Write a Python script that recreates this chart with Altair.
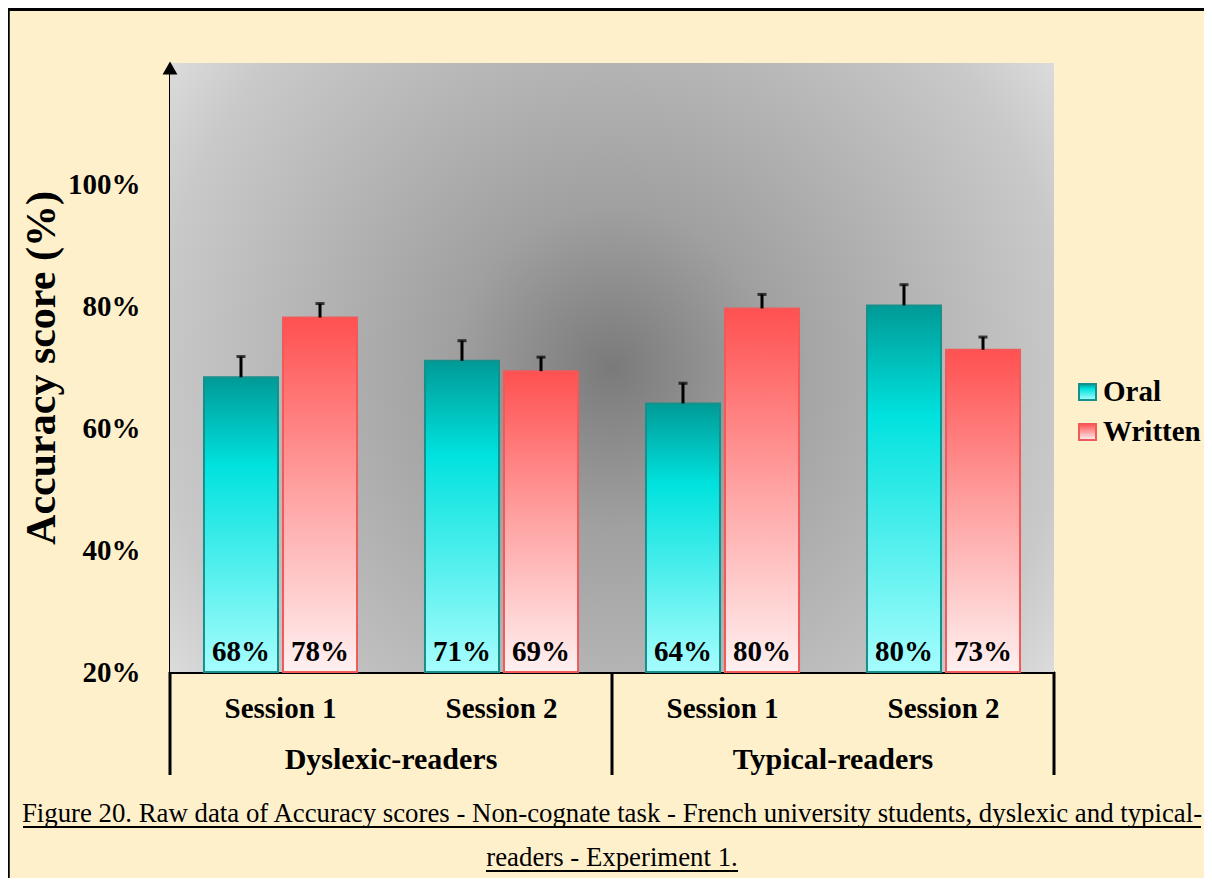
import altair as alt
import pandas as pd

# ---- data ----
reader_groups = ["Dyslexic-readers", "Dyslexic-readers", "Typical-readers", "Typical-readers"]
sessions = ["Session 1", "Session 2", "Session 1", "Session 2"]
oral_scores = [68.4, 71.1, 64.1, 80.2]
written_scores = [78.2, 69.4, 79.7, 72.9]
oral_errors = [3.4, 3.3, 3.3, 3.4]
written_errors = [2.3, 2.3, 2.3, 2.1]
modalities = ["Oral", "Written"]
y_ticks = [20, 40, 60, 80, 100]
group_names = ["Dyslexic-readers", "Typical-readers"]
y_title = "Accuracy score (%)"
caption_1 = "Figure 20. Raw data of Accuracy scores - Non-cognate task - French university students, dyslexic and typical-"
caption_2 = "readers - Experiment 1."

rows = []
for g, s, o, w, oe, we in zip(reader_groups, sessions, oral_scores, written_scores, oral_errors, written_errors):
    key = g + "|" + s
    rows.append(dict(key=key, group=g, session=s, type="Oral", value=o, err=oe))
    rows.append(dict(key=key, group=g, session=s, type="Written", value=w, err=we))
df = pd.DataFrame(rows)
df["top"] = df["value"] + df["err"]
df["label"] = df["value"].round(0).astype(int).astype(str) + "%"
keys = list(dict.fromkeys(df["key"]))

FONT = "Liberation Serif"
W, H = 884, 609

x_axis = alt.Axis(
    title=None, domain=True, domainColor="black", domainWidth=3, ticks=False, tickSize=0,
    labelExpr="split(datum.label, '|')[1]", labelFont=FONT, labelFontSize=29,
    labelFontWeight="bold", labelColor="black", labelPadding=36, labelBaseline="middle",
    labelAngle=0, grid=False,
)
y_axis = alt.Axis(
    title=y_title, values=y_ticks, labelExpr="datum.value + '%'", domain=True,
    domainColor="black", domainWidth=3, ticks=False, tickSize=0, grid=False,
    labelFont=FONT, labelFontSize=29, labelFontWeight="bold", labelColor="black",
    labelPadding=30, titleFont=FONT, titleFontSize=42, titleFontWeight="bold",
    titleColor="black", titleX=-107,
)

x_scale = alt.Scale(domain=keys, paddingInner=0, paddingOuter=0)
x_enc = alt.X("key:N", sort=keys, scale=x_scale, axis=x_axis)
xo_enc = alt.XOffset("type:N", scale=alt.Scale(domain=modalities, paddingInner=0.063, paddingOuter=0.43))
y_scale = alt.Scale(domain=[20, 120], zero=False, nice=False)

one = alt.Data(values=[{"a": 1}])

bg_grad = alt.RadialGradient(
    gradient="radial", x1=0.5, y1=0.5, r1=0, x2=0.5, y2=0.5, r2=0.72,
    stops=[
        alt.GradientStop(offset=0, color="#7a7a7a"),
        alt.GradientStop(offset=0.25, color="#a0a0a0"),
        alt.GradientStop(offset=0.5, color="#b6b6b6"),
        alt.GradientStop(offset=0.72, color="#c9c9c9"),
        alt.GradientStop(offset=0.97, color="#eeeeee"),
    ],
)
oral_grad = alt.LinearGradient(
    gradient="linear", x1=0, y1=0, x2=0, y2=1,
    stops=[
        alt.GradientStop(offset=0, color="#009a96"),
        alt.GradientStop(offset=0.3, color="#00e2de"),
        alt.GradientStop(offset=1, color="#a6fdfd"),
    ],
)
written_grad = alt.LinearGradient(
    gradient="linear", x1=0, y1=0, x2=0, y2=1,
    stops=[
        alt.GradientStop(offset=0, color="#ff5050"),
        alt.GradientStop(offset=0.5, color="#ffa3a3"),
        alt.GradientStop(offset=1, color="#fff0f0"),
    ],
)

background = alt.Chart(one).mark_rect(fill=bg_grad).encode(
    x=alt.value(0), x2=alt.value(W), y=alt.value(0), y2=alt.value(H)
)

def bars(kind, grad, stroke):
    return alt.Chart(df).transform_filter(alt.datum.type == kind).mark_bar(
        fill=grad, stroke=stroke, strokeWidth=2
    ).encode(
        x=x_enc, xOffset=xo_enc,
        y=alt.Y("value:Q", scale=y_scale, axis=y_axis),
        y2=alt.datum(20),
    )

oral_bars = bars("Oral", oral_grad, "#17908c")
written_bars = bars("Written", written_grad, "#f25a5a")

err_rule = alt.Chart(df).mark_rule(color="black", strokeWidth=3).encode(
    x=x_enc, xOffset=xo_enc,
    y=alt.Y("value:Q", scale=y_scale, axis=y_axis), y2="top:Q",
)
err_cap = alt.Chart(df).mark_tick(color="black", thickness=3, size=9, orient="horizontal").encode(
    x=x_enc, xOffset=xo_enc,
    y=alt.Y("top:Q", scale=y_scale, axis=y_axis),
)

value_labels = alt.Chart(df).mark_text(
    font=FONT, fontSize=29, fontWeight="bold", color="black", baseline="middle"
).encode(x=x_enc, xOffset=xo_enc, y=alt.value(589), text="label:N")

arrow = alt.Chart(one).mark_point(
    shape="triangle-up", filled=True, color="black", size=220, opacity=1, yOffset=5
).encode(x=alt.value(0), y=alt.datum(120))

# group separators below the axis
group_df = pd.DataFrame({"key": [g + "|Session 1" for g in group_names], "name": group_names})
mid_df = pd.DataFrame({"key": [g + "|Session 2" for g in group_names], "name": group_names})
end_df = pd.DataFrame({"key": [keys[-1]]})

sep_start = alt.Chart(group_df).mark_rule(color="black", strokeWidth=3).encode(
    x=alt.X("key:N", sort=keys, scale=x_scale, axis=x_axis, bandPosition=0),
    y=alt.value(H), y2=alt.value(712),
)
sep_end = alt.Chart(end_df).mark_rule(color="black", strokeWidth=3).encode(
    x=alt.X("key:N", sort=keys, scale=x_scale, axis=x_axis, bandPosition=1),
    y=alt.value(H), y2=alt.value(712),
)
group_labels = alt.Chart(mid_df).mark_text(
    font=FONT, fontSize=30, fontWeight="bold", color="black", baseline="middle"
).encode(
    x=alt.X("key:N", sort=keys, scale=x_scale, axis=x_axis, bandPosition=0),
    y=alt.value(697), text="name:N",
)

# legend (manual, to keep gradient swatches)
leg_oral_box = alt.Chart(one).mark_rect(fill=oral_grad, stroke="#17908c", strokeWidth=2).encode(
    x=alt.value(909), x2=alt.value(926), y=alt.value(321), y2=alt.value(337))
leg_writ_box = alt.Chart(one).mark_rect(fill=written_grad, stroke="#f25a5a", strokeWidth=2).encode(
    x=alt.value(909), x2=alt.value(926), y=alt.value(361), y2=alt.value(377))
leg_oral_txt = alt.Chart(one).mark_text(
    text=modalities[0], font=FONT, fontSize=29, fontWeight="bold", color="black", align="left", baseline="middle"
).encode(x=alt.value(933), y=alt.value(329))
leg_writ_txt = alt.Chart(one).mark_text(
    text=modalities[1], font=FONT, fontSize=29, fontWeight="bold", color="black", align="left", baseline="middle"
).encode(x=alt.value(933), y=alt.value(369))

# caption (underlined)
cap1 = alt.Chart(one).mark_text(
    text=caption_1, font=FONT, fontSize=26.8, color="black", align="center", baseline="alphabetic"
).encode(x=alt.value(442), y=alt.value(759))
cap1_line = alt.Chart(one).mark_rule(color="black", strokeWidth=2).encode(
    x=alt.value(-147), x2=alt.value(1031), y=alt.value(764))
cap2 = alt.Chart(one).mark_text(
    text=caption_2, font=FONT, fontSize=26.8, color="black", align="center", baseline="alphabetic"
).encode(x=alt.value(442), y=alt.value(803))
cap2_line = alt.Chart(one).mark_rule(color="black", strokeWidth=2).encode(
    x=alt.value(316), x2=alt.value(568), y=alt.value(808))

# outer frame (top and left)
frame_top = alt.Chart(one).mark_rule(color="black", strokeWidth=3).encode(
    x=alt.value(-170), x2=alt.value(1050), y=alt.value(-53.5))
frame_left = alt.Chart(one).mark_rule(color="black", strokeWidth=3.5).encode(
    x=alt.value(-162), y=alt.value(-60), y2=alt.value(830))

chart = alt.layer(
    background, oral_bars, written_bars, err_rule, err_cap, value_labels, arrow,
    sep_start, sep_end, group_labels,
    leg_oral_box, leg_writ_box, leg_oral_txt, leg_writ_txt,
    cap1, cap1_line, cap2, cap2_line, frame_top, frame_left,
).properties(
    width=W, height=H,
    padding={"left": 162, "top": 55, "right": 150, "bottom": 206},
    autosize=alt.AutoSizeParams(type="none"),
    background="#fff0cc",
).configure_view(strokeWidth=0)

chart.save("out.html", embed_options={"renderer": "svg", "actions": False})
